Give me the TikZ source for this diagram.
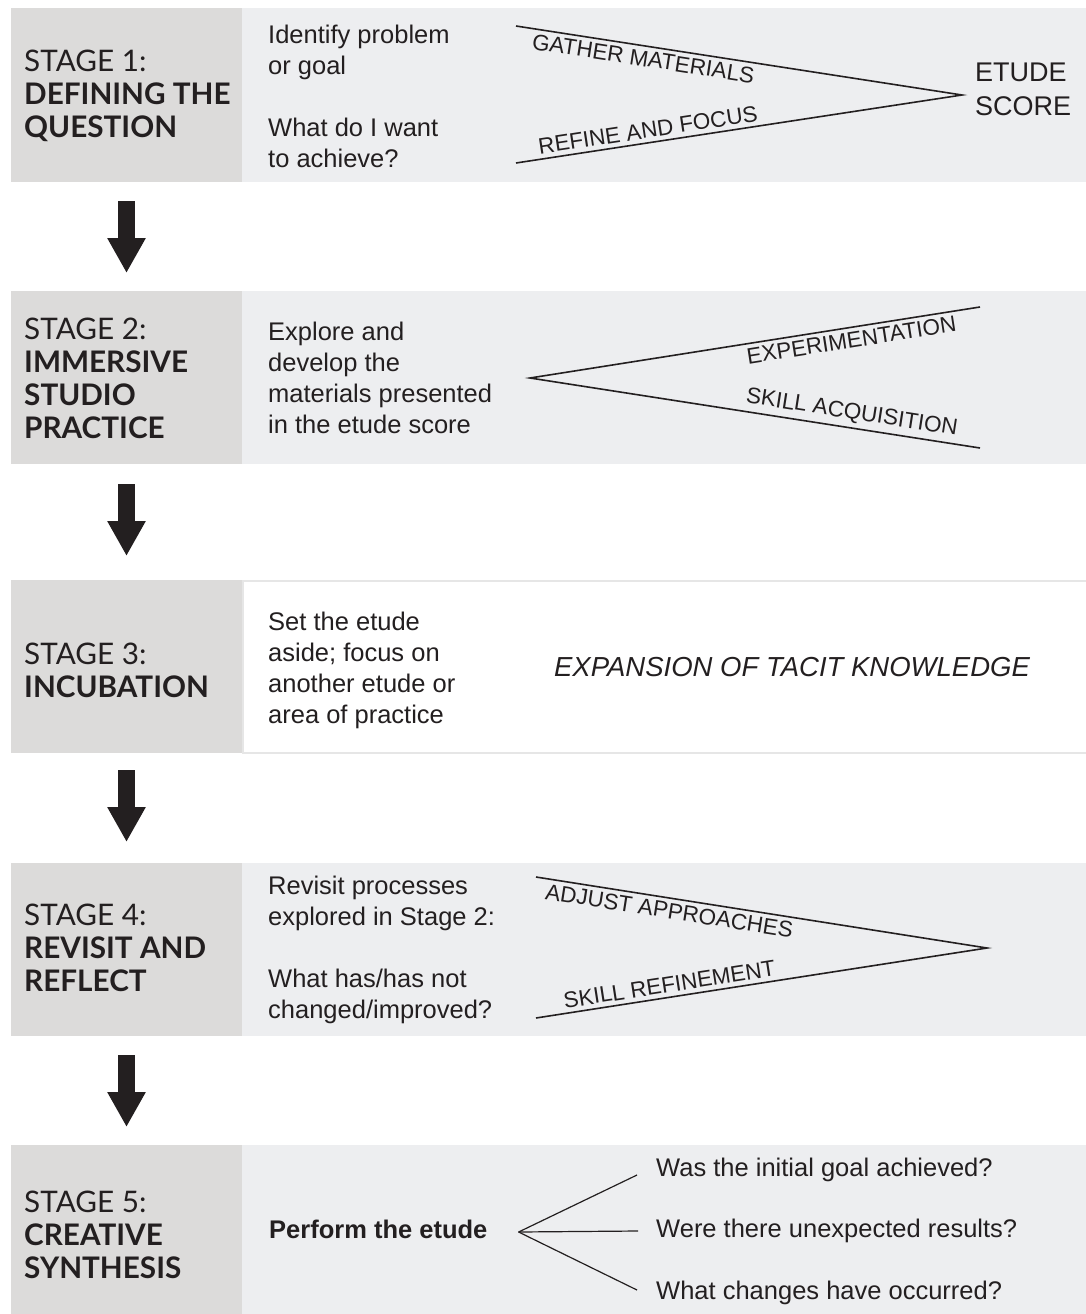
\documentclass[tikz,border=0pt]{standalone}
\usepackage{fontspec}
\setmainfont{Liberation Sans}
\newfontfamily\labfont{Lato}
\usetikzlibrary{arrows.meta,calc}
\definecolor{ink}{HTML}{231F20}
\definecolor{leftgray}{HTML}{DCDBDA}
\definecolor{rightgray}{HTML}{EDEEF0}
\definecolor{rimgray}{HTML}{E6E6E6}
\begin{document}
\begin{tikzpicture}[x=1pt,y=-1pt,
  leftpanel/.style={fill=leftgray, draw=none, minimum width=231pt, minimum height=#1, anchor=north west, inner sep=0pt, outer sep=0pt},
  rightpanel/.style={fill=rightgray, draw=none, minimum width=844pt, minimum height=#1, anchor=north west, inner sep=0pt, outer sep=0pt},
  stagetxt/.style={anchor=west, align=left, font=\labfont\fontsize{29.7}{33}\selectfont, text=ink, inner sep=0pt},
  bodytxt/.style={anchor=west, align=left, font=\fontsize{25.5}{31}\selectfont, text=ink, inner sep=0pt},
  labtxt/.style={font=\fontsize{22.5}{26}\selectfont, text=ink, sloped, inner sep=4.5pt},
  fanline/.style={draw=ink, line width=1.6pt, line join=miter},
  thinfan/.style={draw=ink, line width=1.2pt},
  bigarrow/.style={draw=ink, line width=17pt, -{Triangle[width=36pt,length=35pt]}}
]
\useasboundingbox[fill=white] (0,0) rectangle (1086,1314);

% ---------- panels ----------
\node[leftpanel=174pt] (s1l) at (11,8) {};
\node[rightpanel=174pt] (s1r) at (242,8) {};
\node[leftpanel=173pt] (s2l) at (11,291) {};
\node[rightpanel=173pt] (s2r) at (242,291) {};
\node[leftpanel=173pt] (s3l) at (11,580) {};
\node[fill=white, draw=rimgray, line width=2pt, minimum width=850pt, minimum height=172pt, anchor=north west, inner sep=0pt, outer sep=0pt] (s3r) at (243,580.5) {};
\node[leftpanel=173pt] (s4l) at (11,863) {};
\node[rightpanel=173pt] (s4r) at (242,863) {};
\node[leftpanel=169pt] (s5l) at (11,1145) {};
\node[rightpanel=169pt] (s5r) at (242,1145) {};

% ---------- arrows between stages ----------
\draw[bigarrow] ([yshift=-19pt]s1l.south) -- ([yshift=18pt]s2l.north);
\draw[bigarrow] ([yshift=-20pt]s2l.south) -- ([yshift=24pt]s3l.north);
\draw[bigarrow] ([yshift=-17pt]s3l.south) -- ([yshift=21pt]s4l.north);
\draw[bigarrow] ([yshift=-19pt]s4l.south) -- ([yshift=18pt]s5l.north);

% ---------- stage labels ----------
\node[stagetxt] (t1) at (24,96) {STAGE 1:\\\bfseries DEFINING THE\\\bfseries QUESTION};
\node[stagetxt] (t2) at (24,378) {STAGE 2:\\\bfseries IMMERSIVE\\\bfseries STUDIO\\\bfseries PRACTICE};
\node[stagetxt] (t3) at (24,670) {STAGE 3:\\\bfseries INCUBATION};
\node[stagetxt] (t4) at (24,948) {STAGE 4:\\\bfseries REVISIT AND\\\bfseries REFLECT};
\node[stagetxt] (t5) at (24,1235) {STAGE 5:\\\bfseries CREATIVE\\\bfseries SYNTHESIS};

% ---------- body texts ----------
\node[bodytxt] (d1) at (268,96) {Identify problem\\or goal\\[31pt]What do I want\\to achieve?};
\node[bodytxt] (d2) at (268,378) {Explore and\\develop the\\materials presented\\in the etude score};
\node[bodytxt] (d3) at (268,670) {Set the etude\\aside; focus on\\another etude or\\area of practice};
\node[bodytxt] (d4) at (268,950) {Revisit processes\\explored in Stage 2:\\[31pt]What has/has not\\changed/improved?};
\node[bodytxt, font=\fontsize{25.5}{31}\selectfont\bfseries] (perform) at (269,1229) {Perform the etude};

% ---------- stage 1 fan ----------
\coordinate (a1) at (516,26);
\coordinate (v1) at (962,95);
\coordinate (b1) at (516,163);
\draw[fanline] (a1) -- (v1) -- (b1);
\path (a1) -- node[labtxt, below, pos=0.29] (g1) {GATHER MATERIALS} (v1);
\path (b1) -- node[labtxt, above, pos=0.30] (r1) {REFINE AND FOCUS} (v1);
\node[anchor=west, align=left, font=\fontsize{27}{34}\selectfont, text=ink, inner sep=0pt] (etude) at (975,89) {ETUDE\\SCORE};

% ---------- stage 2 fan ----------
\coordinate (v2) at (530,378);
\coordinate (a2) at (980,307);
\coordinate (b2) at (980,448);
\draw[fanline] (a2) -- (v2) -- (b2);
\path (v2) -- node[labtxt, below, pos=0.71] (e2) {EXPERIMENTATION} (a2);
\path (v2) -- node[labtxt, above, pos=0.71] (k2) {SKILL ACQUISITION} (b2);

% ---------- stage 3 ----------
\node[font=\fontsize{27.5}{33}\selectfont\itshape, text=ink, inner sep=0pt] (tacit) at (792,667) {EXPANSION OF TACIT KNOWLEDGE};

% ---------- stage 4 fan ----------
\coordinate (a4) at (536,877);
\coordinate (v4) at (987,948);
\coordinate (b4) at (536,1018);
\draw[fanline] (a4) -- (v4) -- (b4);
\path (a4) -- node[labtxt, below, pos=0.30] (j4) {ADJUST APPROACHES} (v4);
\path (b4) -- node[labtxt, above, pos=0.30] (f4) {SKILL REFINEMENT} (v4);

% ---------- stage 5 fan ----------
\node[bodytxt] (q1) at (656,1170) {Was the initial goal achieved?};
\node[bodytxt] (q2) at (656,1231) {Were there unexpected results?};
\node[bodytxt] (q3) at (656,1293) {What changes have occurred?};
\coordinate (fv) at ([xshift=31pt,yshift=-3pt]perform.east);
\draw[thinfan] (fv) -- ([xshift=-19pt,yshift=-5pt]q1.west);
\draw[thinfan] (fv) -- ([xshift=-18pt]q2.west);
\draw[thinfan] (fv) -- ([xshift=-19pt,yshift=3pt]q3.west);
\end{tikzpicture}
\end{document}
